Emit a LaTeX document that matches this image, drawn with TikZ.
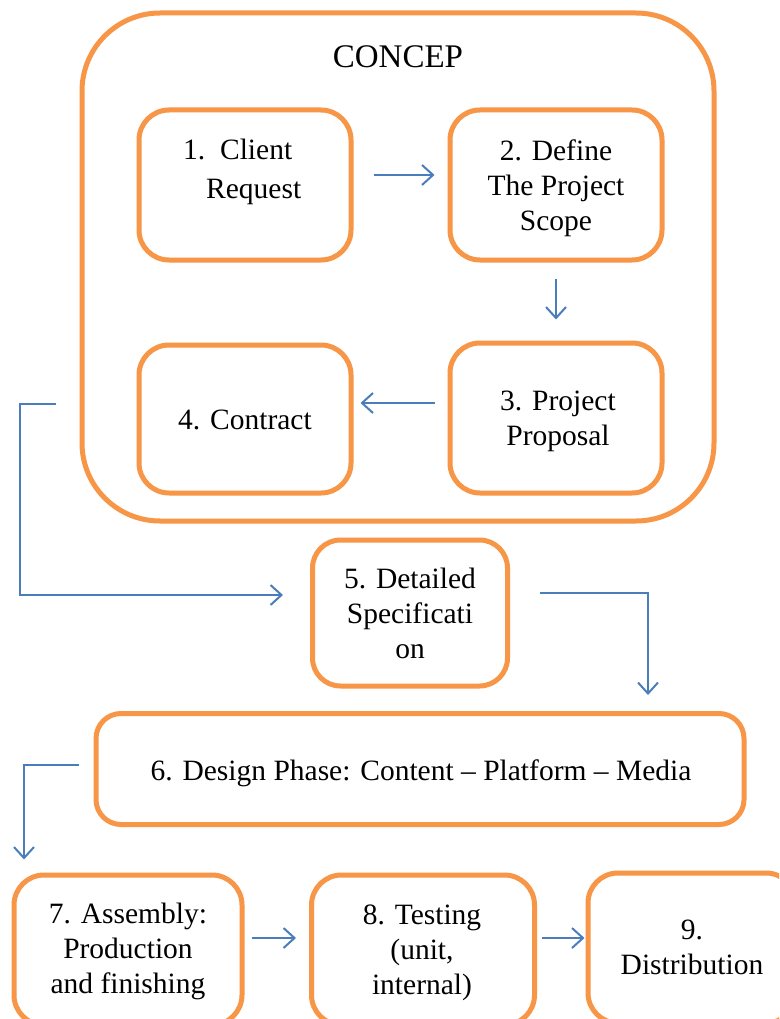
\documentclass[tikz,border=0pt]{standalone}
\usepackage{fontspec}
\IfFontExistsTF{LiberationSerif-Regular.ttf}{\setmainfont{LiberationSerif-Regular.ttf}[BoldFont=LiberationSerif-Bold.ttf]}{\setmainfont{Liberation Serif}}
\usetikzlibrary{arrows.meta,calc}
\definecolor{boxorange}{HTML}{F79646}
\definecolor{arrblue}{HTML}{4A7EBB}
\newcommand{\mlines}[1]{\begin{tabular}[t]{@{}c@{}}#1\end{tabular}}
\begin{document}
\begin{tikzpicture}[x=1pt,y=-1pt,
  box/.style={draw=boxorange,line width=5pt,rectangle,rounded corners=30pt,inner sep=0pt},
  txt/.style={anchor=base,inner sep=0pt,font=\fontsize{29.5}{35}\selectfont},
  arr/.style={draw=arrblue,line width=2pt,-{Straight Barb[length=11pt,width=20pt,line width=2pt]}}]
\useasboundingbox (0,0) rectangle (779,1019);
\clip (0,0) rectangle (779,1019);
\fill[white] (0,0) rectangle (779,1019);
% boxes
\node[box,rounded corners=78pt,minimum width=632pt,minimum height=508pt] (outer) at (398,267) {};
\node[box,minimum width=212pt,minimum height=150pt] (b1) at (245,185) {};
\node[box,minimum width=212pt,minimum height=150pt] (b2) at (556,185) {};
\node[box,minimum width=212pt,minimum height=150pt] (b3) at (556,418) {};
\node[box,minimum width=212pt,minimum height=148pt] (b4) at (245,419) {};
\node[box,rounded corners=28pt,minimum width=195pt,minimum height=146pt] (b5) at (410,613) {};
\node[box,rounded corners=25pt,minimum width=648pt,minimum height=111pt] (b6) at (420,769) {};
\node[box,minimum width=228pt,minimum height=150pt] (b7) at (128,950) {};
\node[box,minimum width=223pt,minimum height=150pt] (b8) at (423,950) {};
\node[box,minimum width=208pt,minimum height=150pt] (b9) at (692,948) {};
% texts
\node[txt,font=\fontsize{33}{38}\selectfont] (t0) at (398,68) {CONCEP};
\node[txt,anchor=base west] (t1) at (183,160) {\begin{tabular}[t]{@{}l@{}}1.\ \ Client\\[4pt]\hspace{23pt}Request\end{tabular}};
\node[txt] (t2) at (556,161) {\mlines{2. Define\\The Project\\Scope}};
\node[txt] (t3) at (558,410) {\mlines{3. Project\\Proposal}};
\node[txt] (t4) at (245,429) {4. Contract};
\node[txt] (t5) at (410,588) {\mlines{5. Detailed\\Specificati\\on}};
\node[txt] (t6) at (421,780) {6. Design Phase: Content -- Platform -- Media};
\node[txt] (t7) at (128,923) {\mlines{7. Assembly:\\Production\\and finishing}};
\node[txt] (t8) at (422,924) {\mlines{8. Testing\\(unit,\\internal)}};
\node[txt] (t9) at (692,939) {\mlines{9.\\Distribution}};
% connectors
\draw[arr] ($(b1.east)+(20,-10)$) -- ($(b2.west)+(-13,-10)$);
\draw[arr] ($(b2.south)+(0,16)$) -- ($(b3.north)+(0,-21)$);
\draw[arr] ($(b3.west)+(-13,-15)$) -- ($(b4.east)+(7,-16)$);
\draw[arr] ($(outer.west)+(-24,137)$) -- ++(-36,0) |- ($(b5.west)+(-27,-18)$);
\draw[arr] ($(b5.east)+(30,-20)$) -| ($(b6.north)+(228,-16)$);
\draw[arr] ($(b6.west)+(-15,-4)$) -| ($(b7.north)+(-104,-13)$);
\draw[arr] ($(b7.east)+(7,-12)$) -- ($(b8.west)+(-13,-12)$);
\draw[arr] ($(b8.east)+(5,-12)$) -- ($(b9.west)+(-1,-10)$);
\end{tikzpicture}
\end{document}
